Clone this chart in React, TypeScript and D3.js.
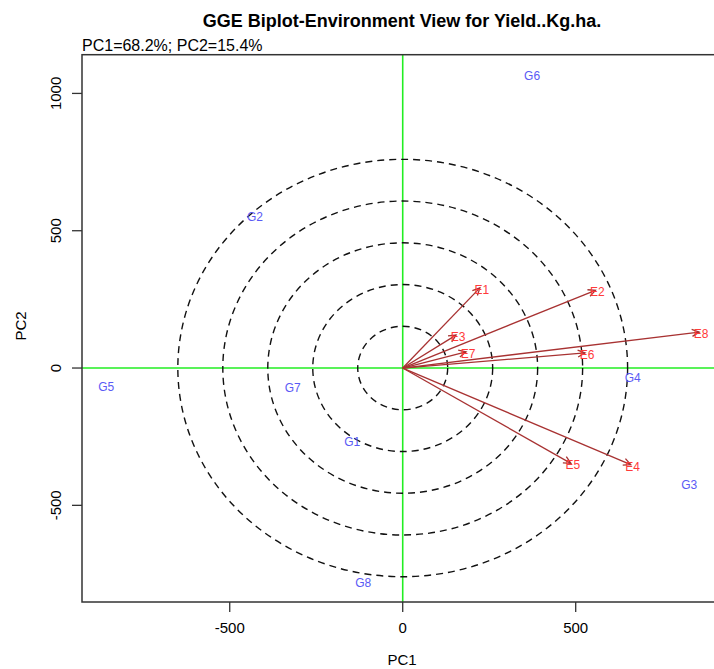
import React from "react";
import * as d3 from "d3";

const title = "GGE Biplot-Environment View for Yield..Kg.ha.";
const subtitle = "PC1=68.2%; PC2=15.4%";

const genotypeNames = ["G1", "G2", "G3", "G4", "G5", "G6", "G7", "G8"];
const genotypePC1 = [-146, -427, 828, 665, -857, 374, -318, -114];
const genotypePC2 = [-269, 550, -426, -37, -68, 1063, -73, -781];

const envNames = ["E1", "E2", "E3", "E4", "E5", "E6", "E7", "E8"];
const envPC1 = [223, 557, 154, 659, 486, 527, 183, 857];
const envPC2 = [292, 283, 120, -352, -347, 55, 59, 131];

const xTicks = [-500, 0, 500];
const yTicks = [-500, 0, 500, 1000];

const ringRadiiPC1 = [130, 260, 390, 520, 650];
const ringRadiiPC2 = [152, 304, 456, 608, 760];

const W = 714;
const H = 669;
const FONT = "'Liberation Sans', Arial, Helvetica, sans-serif";

export default function App() {
  const left = 82;
  const right = 730;
  const top = 54.7;
  const bottom = 602;

  const x = d3.scaleLinear().domain([-927, 946]).range([left, right]);
  const y = d3.scaleLinear().domain([-852, 1141]).range([bottom, top]);

  const arrowColor = "#a83232";
  const envColor = "#ff3a3a";
  const genColor = "#5a5af5";

  const headLen = 8;
  const headAng = (26 * Math.PI) / 180;

  return (
    <svg
      width={W}
      height={H}
      style={{ position: "absolute", left: 0, top: 0, background: "#fff" }}
      fontFamily={FONT}
    >
      <defs>
        <clipPath id="plotclip">
          <rect x={left} y={top} width={right - left} height={bottom - top} />
        </clipPath>
      </defs>

      <text x={402} y={27} textAnchor="middle" fontWeight="bold" fontSize={18} fill="#000">
        {title}
      </text>
      <text x={82} y={51} fontSize={16} fill="#000">
        {subtitle}
      </text>

      <g clipPath="url(#plotclip)">
        <line x1={left} x2={right} y1={y(0)} y2={y(0)} stroke="#22ee22" strokeWidth={1.6} />
        <line x1={x(0)} x2={x(0)} y1={top} y2={bottom} stroke="#22ee22" strokeWidth={1.6} />

        {ringRadiiPC1.map((r, i) => (
          <ellipse
            key={"ring" + i}
            cx={x(0)}
            cy={y(0)}
            rx={x(r) - x(0)}
            ry={y(0) - y(ringRadiiPC2[i])}
            fill="none"
            stroke="#111"
            strokeWidth={1.4}
            strokeDasharray="7,5"
          />
        ))}

        {envNames.map((n, i) => {
          const x0 = x(0);
          const y0 = y(0);
          const x1 = x(envPC1[i]);
          const y1 = y(envPC2[i]);
          const a = Math.atan2(y1 - y0, x1 - x0);
          const hx1 = x1 - headLen * Math.cos(a - headAng);
          const hy1 = y1 - headLen * Math.sin(a - headAng);
          const hx2 = x1 - headLen * Math.cos(a + headAng);
          const hy2 = y1 - headLen * Math.sin(a + headAng);
          return (
            <g key={"env" + n}>
              <line x1={x0} y1={y0} x2={x1} y2={y1} stroke={arrowColor} strokeWidth={1.3} />
              <polyline
                points={`${hx1},${hy1} ${x1},${y1} ${hx2},${hy2}`}
                fill="none"
                stroke={arrowColor}
                strokeWidth={1.3}
              />
            </g>
          );
        })}

        {envNames.map((n, i) => (
          <text
            key={"envl" + n}
            x={x(envPC1[i]) + 2}
            y={y(envPC2[i]) + 2}
            textAnchor="middle"
            dominantBaseline="central"
            fontSize={12}
            fill={envColor}
          >
            {n}
          </text>
        ))}

        {genotypeNames.map((n, i) => (
          <text
            key={"gen" + n}
            x={x(genotypePC1[i])}
            y={y(genotypePC2[i])}
            textAnchor="middle"
            dominantBaseline="central"
            fontSize={12}
            fill={genColor}
          >
            {n}
          </text>
        ))}
      </g>

      <rect
        x={left}
        y={top}
        width={right - left}
        height={bottom - top}
        fill="none"
        stroke="#333"
        strokeWidth={1.5}
      />

      {xTicks.map((t) => (
        <g key={"xt" + t}>
          <line x1={x(t)} x2={x(t)} y1={bottom} y2={bottom + 10} stroke="#333" strokeWidth={1.3} />
          <text x={x(t)} y={bottom + 31} textAnchor="middle" fontSize={15} fill="#000">
            {t}
          </text>
        </g>
      ))}

      {yTicks.map((t) => (
        <g key={"yt" + t}>
          <line x1={left - 10} x2={left} y1={y(t)} y2={y(t)} stroke="#333" strokeWidth={1.3} />
          <text
            transform={`translate(${left - 21},${y(t)}) rotate(-90)`}
            textAnchor="middle"
            fontSize={15}
            fill="#000"
          >
            {t}
          </text>
        </g>
      ))}

      <text x={402} y={665} textAnchor="middle" fontSize={15} fill="#000">
        PC1
      </text>
      <text
        transform={`translate(26,326) rotate(-90)`}
        textAnchor="middle"
        fontSize={15}
        fill="#000"
      >
        PC2
      </text>
    </svg>
  );
}
